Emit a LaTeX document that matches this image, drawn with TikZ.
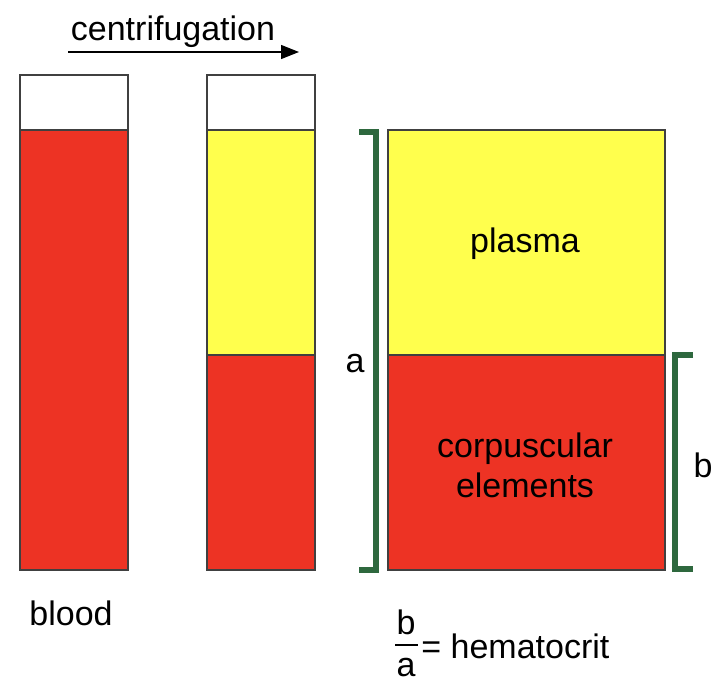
\documentclass[tikz,border=0pt]{standalone}
\usepackage{fontspec}
\setmainfont{Liberation Sans}
\usetikzlibrary{arrows.meta}
\definecolor{bloodred}{RGB}{237,51,36}
\definecolor{plasmayellow}{RGB}{255,255,77}
\definecolor{bracketgreen}{RGB}{46,104,62}

\begin{document}
\begin{tikzpicture}[x=0.5pt,y=-0.5pt,
		lbl/.style={font=\fontsize{17}{20}\selectfont, inner sep=0pt, anchor=base},
		tube/.style={draw=black!75, line width=0.6pt},
		brace/.style={draw=bracketgreen, line width=2.6pt}]
		%%%%% START %%%%%
		\useasboundingbox (0,0) rectangle (722,682);
		
		\node[lbl] (centri) at (173,40) {centrifugation};
		\coordinate (arrstart) at (68,52);
		\coordinate (arrend) at (299,52);
		\draw[line width=0.6pt, -{Triangle[length=9pt,width=7pt]}] (arrstart) -- (arrend);
		
		% whole blood
		\draw[tube, fill=white] (20,75) rectangle (128,130);
		\draw[tube, fill=bloodred] (20,130) rectangle (128,570);
		\node[lbl] (blood) at (71,625) {blood};
		
		% after centrifugation
		\draw[tube, fill=white] (207,75) rectangle (315,130);
		\draw[tube, fill=plasmayellow] (207,130) rectangle (315,355);
		\draw[tube, fill=bloodred] (207,355) rectangle (315,570);
		
		% enlarged
		\draw[tube, fill=plasmayellow] (388,130) rectangle (665,355);
		\draw[tube, fill=bloodred] (388,355) rectangle (665,570);
		\node[lbl] (plasma) at (525,252) {plasma};
		\node[lbl] (corp) at (525,457) {corpuscular};
		\node[lbl] (elem) at (525,497) {elements};
		
		\draw[brace] (359,132) -- (376,132) -- (376,570) -- (359,570);
		\node[lbl] (alabel) at (355,372) {a};
		\draw[brace] (693,355) -- (675,355) -- (675,569) -- (693,569);
		\node[lbl] (blabel) at (703,477) {b};
		
		% ratio
		\node[lbl] (fracb) at (406,634) {b};
		\node[lbl] (fraca) at (406,676) {a};
		\draw[line width=1pt] (395,645) -- (418,645);
		\node[lbl, anchor=base west] (hemato) at (421,658) {= hematocrit};
		%%%%% END %%%%%
\end{tikzpicture}
\end{document}
